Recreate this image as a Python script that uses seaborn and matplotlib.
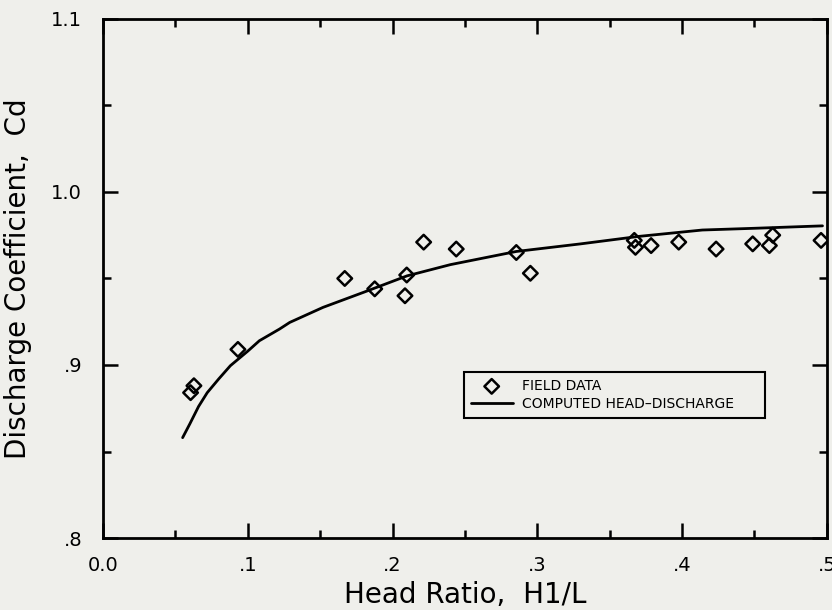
import matplotlib
matplotlib.use("Agg")
import matplotlib.pyplot as plt
from matplotlib.ticker import MultipleLocator, FixedLocator, FixedFormatter
import pandas as pd
import seaborn as sns

# field measurements (head ratio vs discharge coefficient)
field_x = [0.0605, 0.0628, 0.0932, 0.167, 0.1877, 0.2086, 0.2098, 0.2215, 0.244,
           0.2855, 0.2952, 0.367, 0.3678, 0.3786, 0.3977, 0.4235, 0.4488, 0.4603,
           0.4626, 0.496]
field_cd = [0.884, 0.888, 0.909, 0.950, 0.944, 0.940, 0.952, 0.971, 0.967,
            0.965, 0.953, 0.972, 0.968, 0.969, 0.971, 0.967, 0.970, 0.969,
            0.975, 0.972]

# computed head-discharge curve
curve_x = [0.055, 0.060, 0.066, 0.072, 0.080, 0.088, 0.100, 0.108, 0.122, 0.129,
           0.152, 0.180, 0.210, 0.240, 0.2855, 0.330, 0.370, 0.414, 0.450, 0.497]
curve_cd = [0.858, 0.866, 0.876, 0.884, 0.892, 0.8996, 0.908, 0.914, 0.9208, 0.9246,
            0.9333, 0.942, 0.9515, 0.958, 0.9656, 0.970, 0.9743, 0.978, 0.979, 0.9804]

x_ticks = [0.0, 0.1, 0.2, 0.3, 0.4, 0.5]
x_labels = ["0.0", ".1", ".2", ".3", ".4", ".5"]
y_ticks = [0.8, 0.9, 1.0, 1.1]
y_labels = [".8", ".9", "1.0", "1.1"]

field = pd.DataFrame({"x": field_x, "cd": field_cd})
curve = pd.DataFrame({"x": curve_x, "cd": curve_cd})

BG = "#efefeb"
sns.set_theme(style="ticks")
plt.rcParams["font.family"] = ["DejaVu Sans"]
plt.rcParams["text.color"] = "black"
plt.rcParams["axes.labelcolor"] = "black"
plt.rcParams["xtick.labelcolor"] = "black"
plt.rcParams["ytick.labelcolor"] = "black"

fig = plt.figure(figsize=(8.32, 6.1), dpi=100, facecolor=BG)
ax = fig.add_axes([0.1238, 0.118, 0.870, 0.851])
ax.set_facecolor(BG)

sns.lineplot(data=curve, x="x", y="cd", color="black", linewidth=2.0,
             label="COMPUTED HEAD\u2013DISCHARGE", ax=ax, zorder=2)
sns.scatterplot(data=field, x="x", y="cd", marker="D", s=55,
                facecolor="none", edgecolor="black", linewidth=1.8,
                label="FIELD DATA", ax=ax, zorder=3)

ax.set_xlim(0.0, 0.5)
ax.set_ylim(0.8, 1.1)
ax.xaxis.set_major_locator(FixedLocator(x_ticks))
ax.xaxis.set_major_formatter(FixedFormatter(x_labels))
ax.yaxis.set_major_locator(FixedLocator(y_ticks))
ax.yaxis.set_major_formatter(FixedFormatter(y_labels))
ax.xaxis.set_minor_locator(MultipleLocator(0.05))
ax.yaxis.set_minor_locator(MultipleLocator(0.05))

ax.tick_params(which="both", direction="in", top=True, right=True, color="black",
               width=1.8, labelcolor="black")
ax.tick_params(which="major", length=11, labelsize=14, pad=13)
ax.tick_params(which="minor", length=6)
ax.tick_params(axis="y", which="major", pad=15)
for sp in ax.spines.values():
    sp.set_linewidth(2.0)
    sp.set_color("black")

ax.set_xlabel("Head Ratio,  H1/L", fontsize=20, labelpad=4, color="black")
ax.set_ylabel("Discharge Coefficient,  Cd", fontsize=20, labelpad=14, color="black")

handles, labels = ax.get_legend_handles_labels()
order = [labels.index("FIELD DATA"), labels.index("COMPUTED HEAD\u2013DISCHARGE")]
leg = ax.legend([handles[i] for i in order], [labels[i] for i in order],
                loc="lower left", bbox_to_anchor=(0.4986, 0.231, 0.4154, 0.101),
                mode="expand", borderaxespad=0, fontsize=10, handlelength=3.0,
                handletextpad=0.7, fancybox=False, framealpha=1.0,
                edgecolor="black", facecolor=BG, borderpad=0.5, labelspacing=0.3)
leg.get_frame().set_linewidth(1.5)
for t in leg.get_texts():
    t.set_color("black")

fig.savefig("out.png", dpi=100, facecolor=BG)
